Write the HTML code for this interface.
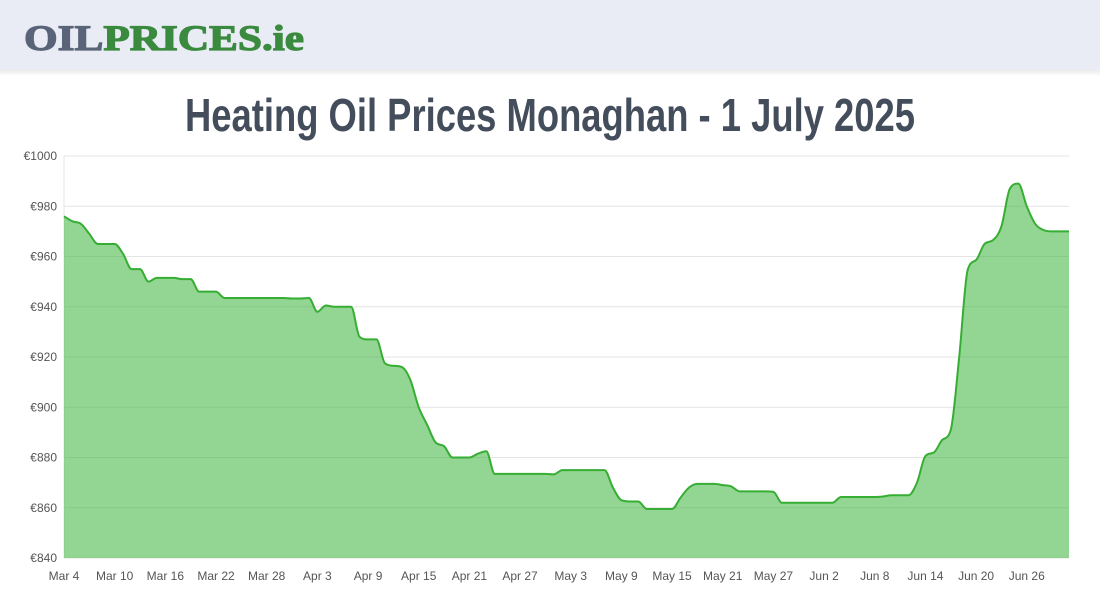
<!DOCTYPE html>
<html><head><meta charset="utf-8"><style>
html,body{margin:0;padding:0;background:#fff;}
svg{display:block;font-family:"Liberation Sans",sans-serif;}
</style></head><body>
<svg id="chart" width="1100" height="600" viewBox="0 0 1100 600">
<defs><linearGradient id="sh" x1="0" y1="0" x2="0" y2="1"><stop offset="0" stop-color="#000" stop-opacity="0.08"/><stop offset="1" stop-color="#000" stop-opacity="0"/></linearGradient></defs>
<rect x="0" y="0" width="1100" height="70" fill="#e9ecf4"/>
<rect x="0" y="70" width="1100" height="6" fill="url(#sh)"/>
<text x="24" y="50" font-family="Liberation Serif,serif" font-weight="bold" font-size="36" textLength="280" lengthAdjust="spacingAndGlyphs" stroke-width="1.2"><tspan fill="#5a6478" stroke="#5a6478">OIL</tspan><tspan fill="#3a8a3f" stroke="#3a8a3f">PRICES.ie</tspan></text>
<text x="185" y="131" font-size="46" font-weight="bold" fill="#444d5c" textLength="730" lengthAdjust="spacingAndGlyphs">Heating Oil Prices Monaghan - 1 July 2025</text>
<g id="grid"></g><g id="series"></g><g id="axes"></g>
</svg>
<script>
const yTicks=[840,860,880,900,920,940,960,980,1000];
const xLabels=["Mar 4","Mar 10","Mar 16","Mar 22","Mar 28","Apr 3","Apr 9","Apr 15","Apr 21","Apr 27","May 3","May 9","May 15","May 21","May 27","Jun 2","Jun 8","Jun 14","Jun 20","Jun 26"];
const prices=[976,974,973,969,965,965,965,961,955,955,950,951.5,951.5,951.5,951,951,946,946,946,943.5,
943.5,943.5,943.5,943.5,943.5,943.5,943.5,943.3,943.3,943.5,938,940.5,940,940,940,928,927,927,917.5,916.5,
916,911,900,893,886,884.5,880,880,880,881.5,882.5,873.5,873.5,873.5,873.5,873.5,873.5,873.5,873.3,875,
875,875,875,875,875,868,863,862.5,862.5,859.5,859.5,859.5,859.5,864,868,869.5,869.5,869.5,869,868.5,
866.5,866.5,866.5,866.5,866.3,862,862,862,862,862,862,862,864.3,864.3,864.3,864.3,864.3,864.5,865,865,
865,870,880.6,882,887,891,920,954.6,958.6,965,966.5,972,987,989,980,973,970.5,970,970,970];
const NS="http://www.w3.org/2000/svg";
const X0=64,X1=1069,Y0=558,Y1=156;
const xs=i=>X0+(X1-X0)*i/(prices.length-1);
const ys=v=>Y0-(v-840)/(1000-840)*(Y0-Y1);
function mk(t,a,p){const e=document.createElementNS(NS,t);for(const k in a)e.setAttribute(k,a[k]);p.appendChild(e);return e;}
const grid=document.getElementById('grid'),axes=document.getElementById('axes'),ser=document.getElementById('series');
yTicks.forEach(v=>{
 const l=mk('line',{x1:X0,x2:X1,y1:ys(v),y2:ys(v),stroke:'#e4e4e4','stroke-width':1},grid);
 
 
 const t=mk('text',{x:57,y:ys(v)+4,'text-anchor':'end','font-size':12,fill:'#555'},axes);
 t.textContent='€'+v;
 
 
});
mk('line',{x1:X0,x2:X0,y1:Y1,y2:Y0,stroke:'#e4e4e4'},grid);
xLabels.forEach((s,i)=>{
 const t=mk('text',{x:xs(i*6),y:580,'text-anchor':'middle','font-size':12,fill:'#555'},axes);
 t.textContent=s;
 
 
});
// monotone cubic
const n=prices.length,P=prices.map((v,i)=>[xs(i),ys(v)]);
const d=[],m=[];
for(let i=0;i<n-1;i++)d.push((P[i+1][1]-P[i][1])/(P[i+1][0]-P[i][0]));
for(let i=0;i<n;i++){if(i==0)m.push(d[0]);else if(i==n-1)m.push(d[n-2]);else m.push(d[i-1]*d[i]<=0?0:(d[i-1]+d[i])/2);}
for(let i=0;i<n-1;i++){if(d[i]==0){m[i]=m[i+1]=0;continue;}const a=m[i]/d[i],b=m[i+1]/d[i],s=a*a+b*b;if(s>9){const t=3/Math.sqrt(s);m[i]=t*a*d[i];m[i+1]=t*b*d[i];}}
let path='M'+P[0][0]+','+P[0][1];
for(let i=0;i<n-1;i++){const h=(P[i+1][0]-P[i][0])/3;path+=` C${P[i][0]+h},${P[i][1]+m[i]*h} ${P[i+1][0]-h},${P[i+1][1]-m[i+1]*h} ${P[i+1][0]},${P[i+1][1]}`;}
const area=mk('path',{d:path+` L${X1},${Y0} L${X0},${Y0} Z`,fill:'rgba(58,180,58,0.55)'},ser);


const line=mk('path',{d:path,fill:'none',stroke:'#36ad33','stroke-width':2},ser);


</script>
</body></html>
